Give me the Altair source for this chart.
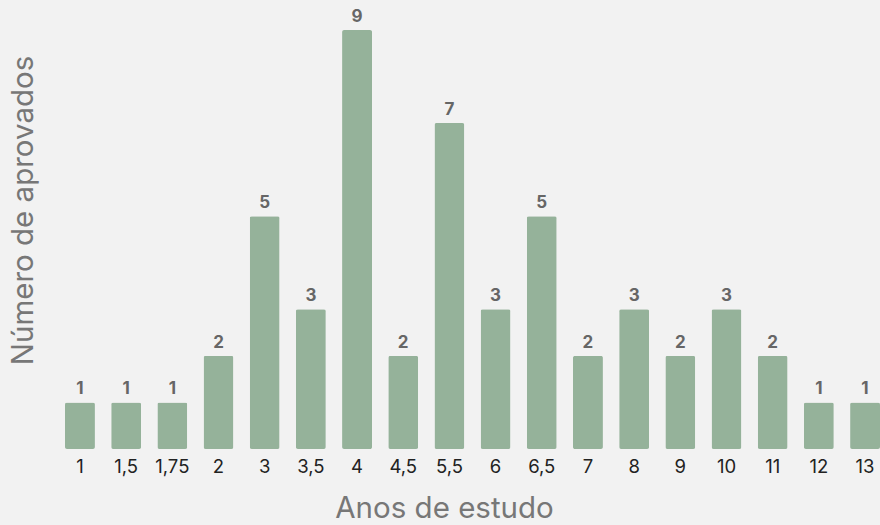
import altair as alt
import pandas as pd

anos = ["1", "1,5", "1,75", "2", "3", "3,5", "4", "4,5", "5,5", "6",
        "6,5", "7", "8", "9", "10", "11", "12", "13"]
aprovados = [1, 1, 1, 2, 5, 3, 9, 2, 7, 3, 5, 2, 3, 2, 3, 2, 1, 1]

df = pd.DataFrame({"anos": anos, "aprovados": aprovados})

FONT = "Inter"

base = alt.Chart(df).encode(
    x=alt.X(
        "anos:N",
        sort=anos,
        scale=alt.Scale(paddingInner=0.352, paddingOuter=0),
        axis=alt.Axis(
            title="Anos de estudo",
            labelAngle=0,
            labelFont=FONT,
            labelFontSize=18.5,
            labelColor="#222222",
            labelPadding=8,
            ticks=False,
            domain=False,
            titleFont=FONT,
            titleFontSize=29.5,
            titleFontWeight="normal",
            titleColor="#777777",
            titleX=379,
            titleY=59,
            titleAlign="center",
            titleBaseline="middle",
        ),
    ),
    y=alt.Y(
        "aprovados:Q",
        scale=alt.Scale(domain=[0, 9], nice=False),
        axis=alt.Axis(
            title="Número de aprovados",
            labels=False,
            ticks=False,
            domain=False,
            grid=False,
            titleFont=FONT,
            titleFontSize=29.5,
            titleFontWeight="normal",
            titleColor="#777777",
            titleAngle=-90,
            titleX=-42,
            titleY=180,
            titleAlign="center",
            titleBaseline="middle",
        ),
    ),
)

bars = base.mark_bar(color="#95B29A", cornerRadius=2)
labels = base.mark_text(
    baseline="bottom", dy=-4, font=FONT, fontSize=17, fontWeight="bold", color="#666666"
).encode(text="aprovados:Q")

chart = (
    (bars + labels)
    .properties(
        width=815,
        height=419,
        autosize=alt.AutoSizeParams(type="none"),
        padding={"left": 65, "top": 30, "right": 0, "bottom": 76},
        background="#F2F2F2",
    )
    .configure_view(stroke=None)
)

chart.save("out.html", embed_options={"renderer": "svg", "actions": False})
